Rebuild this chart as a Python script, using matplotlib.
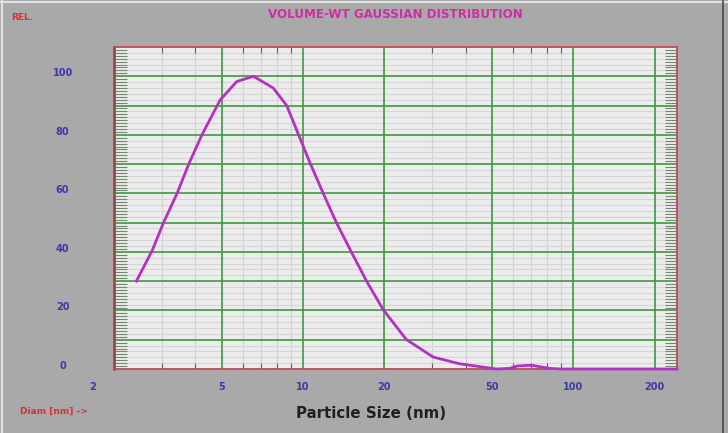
import matplotlib.pyplot as plt
import matplotlib.transforms as mtransforms
from matplotlib.lines import Line2D
from matplotlib.ticker import FixedLocator, NullFormatter

# size (nm) vs relative volume-weighted intensity
diam_nm = [2.42, 2.77, 3.05, 3.42, 3.78, 4.23, 4.94, 5.69, 6.56, 7.76, 8.71,
           10.6, 11.9, 13.3, 15.1, 17.2, 19.8, 24.1, 30.3, 37.9, 47.6,
           52, 58, 62, 70, 75, 82, 90, 242]
rel = [30.0, 40.5, 50.0, 59.9, 70.0, 80.0, 91.9, 98.2, 100.0, 96.0, 90.0,
       70.6, 59.9, 50.0, 40.0, 30.0, 20.3, 10.1, 4.1, 1.8, 0.5,
       0.0, 0.2, 1.0, 1.3, 0.8, 0.2, 0.0, 0.0]

x_major = [5, 10, 20, 50, 100, 200]
x_labels = ['5', '10', '20', '50', '100', '200']
y_major = [0, 20, 40, 60, 80, 100]

W, H = 728, 433
bg = '#a9a9a9'
panel = '#ececec'
green = '#3f9a3f'
tick_blue = '#3a3aa8'
frame_red = '#c04a5a'

fig = plt.figure(figsize=(W / 100, H / 100), dpi=100, facecolor=bg)
ax = fig.add_axes([114 / W, 1 - 369 / H, (677 - 114) / W, (369 - 47) / H])
ax.set_facecolor(panel)

ax.set_xscale('log')
ax.set_xlim(2, 242)
ax.set_ylim(0, 110)

# faint minor grid, then green major grid
minor_x = [m * d for d in (1, 10, 100) for m in range(2, 10) if 2 < m * d < 242]
for v in minor_x:
    ax.axvline(v, color='#d2d2d2', lw=0.8, zorder=1)
for v in range(2, 110, 2):
    ax.axhline(v, color='#d6d6d6', lw=0.8, zorder=1)
for v in x_major:
    ax.axvline(v, color=green, lw=1.2, zorder=2)
for v in range(10, 110, 10):
    ax.axhline(v, color=green, lw=1.2, zorder=2)

ax.plot(diam_nm, rel, color='#b530c0', lw=2, zorder=4, clip_on=False)

# ticks
ax.xaxis.set_major_locator(FixedLocator(x_major))
ax.set_xticklabels(x_labels)
ax.xaxis.set_minor_locator(FixedLocator(minor_x))
ax.xaxis.set_minor_formatter(NullFormatter())
ax.tick_params(axis='x', which='major', direction='in', length=0, pad=9,
               labelsize=7, labelcolor=tick_blue)
ax.tick_params(axis='x', which='minor', direction='in', length=4, width=0.8,
               color='#606060', top=True, bottom=True)
for lab in ax.get_xticklabels():
    lab.set_fontweight('bold')

ax.yaxis.set_major_locator(FixedLocator(y_major))
ax.yaxis.set_minor_locator(FixedLocator([v for v in range(1, 110) if v % 10]))
ax.tick_params(axis='y', which='major', direction='in', length=0, pad=37,
               labelsize=7, labelcolor=tick_blue)
ax.tick_params(axis='y', which='minor', direction='in', length=9, width=0.8,
               color='#6f8a6f', left=True, right=True)
offset = mtransforms.ScaledTranslation(0, 4 / 100, fig.dpi_scale_trans)
for lab in ax.get_yticklabels():
    lab.set_fontweight('bold')
    lab.set_horizontalalignment('center')
    lab.set_transform(lab.get_transform() + offset)

for side in ['top', 'right', 'bottom']:
    ax.spines[side].set_color(frame_red)
    ax.spines[side].set_linewidth(1.3)
ax.spines['left'].set_color('#a04848')
ax.spines['left'].set_linewidth(2)

# texts around the panel
fig.text(93 / W, 1 - 387 / H, '2', color=tick_blue, fontsize=7,
         fontweight='bold', ha='center', va='center')
fig.text(395 / W, 1 - 15 / H, 'VOLUME-WT GAUSSIAN DISTRIBUTION', color='#d22aa8',
         fontsize=8.6, fontweight='bold', ha='center', va='center')
fig.text(11 / W, 1 - 17 / H, 'REL.', color='#d83030', fontsize=6.5,
         fontweight='bold', ha='left', va='center')
fig.text(20 / W, 1 - 411 / H, 'Diam [nm] ->', color='#d83030', fontsize=6.5,
         fontweight='bold', ha='left', va='center')
fig.text(371 / W, 1 - 413 / H, 'Particle Size (nm)', color='#202020',
         fontsize=10.8, fontweight='bold', ha='center', va='center')

# window frame
fig.add_artist(Line2D([0, 1], [1 - 2 / H] * 2, color='#e2e2e2', lw=1.5))
fig.add_artist(Line2D([2 / W] * 2, [0, 1], color='#e2e2e2', lw=1.5))
fig.add_artist(Line2D([723 / W] * 2, [0, 1], color='#4a4a4a', lw=1.2))

fig.savefig('out.png', dpi=100, facecolor=bg)
